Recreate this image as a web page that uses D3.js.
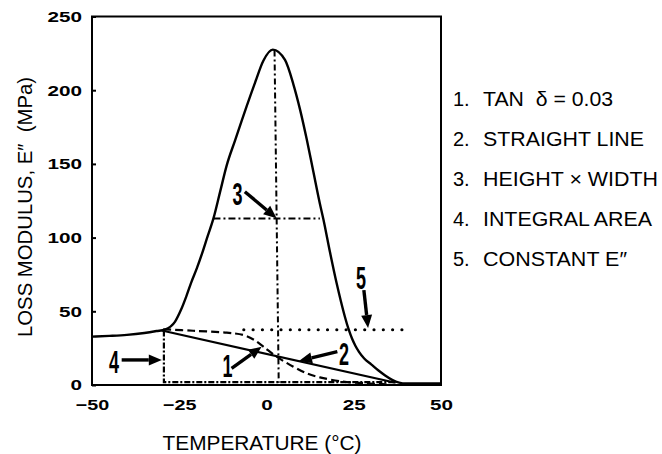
<!DOCTYPE html>
<html>
<head>
<meta charset="utf-8">
<script src="https://cdn.jsdelivr.net/npm/d3@7"></script>
<style>
  html, body { margin: 0; padding: 0; background: #fff; }
  svg { display: block; }
  text { font-family: "Liberation Sans", Arial, Helvetica, sans-serif; fill: #000; }
</style>
</head>
<body>
<svg id="chart" width="662" height="454"></svg>
<script>
// Loss modulus E'' (MPa) across the glass transition, temperature in °C
const mainTemp = [-50, -45, -40, -35, -31.5, -29.1, -26.2, -24.5, -23, -21.5, -20, -18.5, -17, -15.2, -13.3, -11.4, -9, -7, -5.7, -3.3, -0.9, 1.8, 5.3, 7.7, 9.6, 11.5, 13.4, 15.3, 16.3, 18.2, 20.1, 21.3, 22.5, 23.5, 24.5, 25.5, 26.5, 28, 30, 32, 34, 36, 38, 40, 50];
const mainE    = [32.8, 33.3, 34, 35.3, 36.6, 37.6, 43, 51, 60, 70, 79, 89, 100, 113, 131, 149, 166, 180, 189, 205, 220, 227.5, 220.5, 204, 187, 167, 145, 123, 112.5, 90, 69, 57, 46, 38, 31.5, 26.5, 22.5, 18, 14, 10, 6.5, 3.5, 1.6, 1, 1];

// Method 1: baseline where tan δ = 0.03
const tanTemp = [-29.6, -21, -11.4, -6.6, -3.5, -0.9, 2.9, 7.7, 11.5, 15.3, 21.9, 28.7, 34.4];
const tanE    = [37.8, 36.8, 35.5, 33.9, 30.5, 26, 19.2, 12.4, 7.9, 5.2, 2.3, 1.1, 0.5];

// Method 2: straight baseline under the peak
const lineTemp = [-30, 37];
const lineE    = [37, 1.5];

// Method 3: peak height and width at half height
const peakTemp = [2.3, 3.5];
const peakE    = [227, 1.5];
const halfTemp = [-15.2, 15.3];
const halfE    = [113, 113];

// Method 4: integral area bounds
const areaTemp = [-29.4, -29.4, 37];
const areaE    = [37, 2, 2];

// Method 5: constant E''
const constTemp = [-6.5, 40];
const constE    = [37.5, 37.5];

// Numbered call-outs and their arrows
const calloutLabels   = ["1", "2", "3", "4", "5"];
const calloutTemp     = [-11.2, 22.2, -8.3, -43.7, 27.1];
const calloutE        = [12.9, 21, 129.6, 15.9, 72.9];
const arrowFromTemp   = [-10.0, 20.3, -6.2, -41.5, 27.9];
const arrowFromE      = [11.3, 22.6, 131.1, 17, 64.4];
const arrowToTemp     = [-1.4, 9.3, 2.9, -30.0, 29.1];
const arrowToE        = [26, 16.3, 113.1, 17, 38.7];

// Legend entries
const legendNums  = ["1.", "2.", "3.", "4.", "5."];
const legendTexts = ["TAN  \u03B4 = 0.03", "STRAIGHT LINE", "HEIGHT \u00D7 WIDTH", "INTEGRAL AREA", "CONSTANT E\u2033"];

// Axis ticks
const xTicks = [-50, -25, 0, 25, 50];
const yTicks = [0, 50, 100, 150, 200, 250];

const xTitle = "TEMPERATURE (\u00B0C)";
const yTitle = "LOSS MODULUS, E\u2033  (MPa)";

// ---- layout ----
const plot = { left: 92, right: 441, top: 16.5, bottom: 385 };
const legendX = 453, legendTextX = 483, legendY0 = 105.7, legendStep = 40;
const legendTextLength = [130, 161, 175, 169, 144];

const svg = d3.select("#chart");
const x = d3.scaleLinear().domain([-50, 50]).range([plot.left, plot.right]);
const y = d3.scaleLinear().domain([0, 250]).range([plot.bottom, plot.top]);

const zip = (a, b) => a.map((v, i) => [v, b[i]]);
const line = d3.line().x(d => x(d[0])).y(d => y(d[1]));
const fmt = d => (d < 0 ? "\u2212" + Math.abs(d) : String(d));
const tickTextLength = s => [...s].reduce((w, c) => w + (c === "\u2212" ? 10.5 : 11.5), 0);

// Axes
const yAxis = svg.append("g")
  .attr("transform", `translate(${plot.left},0)`)
  .call(d3.axisLeft(y).tickValues(yTicks).tickSize(-4).tickPadding(10).tickFormat(fmt));
yAxis.select(".domain").remove();
yAxis.selectAll(".tick line").attr("stroke", "#000").attr("stroke-width", 2);
yAxis.selectAll(".tick text")
  .attr("font-size", 15).attr("font-weight", "bold")
  .style("font-family", '"Liberation Sans", Arial, sans-serif')
  .attr("textLength", function () { return tickTextLength(this.textContent); })
  .attr("lengthAdjust", "spacingAndGlyphs");

const xAxis = svg.append("g")
  .attr("transform", `translate(0,${plot.bottom})`)
  .call(d3.axisBottom(x).tickValues(xTicks).tickSize(0).tickPadding(14).tickFormat(fmt));
xAxis.select(".domain").remove();
xAxis.selectAll(".tick text")
  .attr("font-size", 15).attr("font-weight", "bold")
  .style("font-family", '"Liberation Sans", Arial, sans-serif')
  .attr("textLength", function () { return tickTextLength(this.textContent); })
  .attr("lengthAdjust", "spacingAndGlyphs");

// Frame
svg.append("rect")
  .attr("x", plot.left).attr("y", plot.top)
  .attr("width", plot.right - plot.left).attr("height", plot.bottom - plot.top)
  .attr("fill", "none").attr("stroke", "#000").attr("stroke-width", 2);

// Axis titles
svg.append("text")
  .attr("x", 262).attr("y", 450)
  .attr("text-anchor", "middle").attr("font-size", 20)
  .attr("textLength", 199).attr("lengthAdjust", "spacingAndGlyphs")
  .text(xTitle);

svg.append("text")
  .attr("transform", "translate(32,207) rotate(-90)")
  .attr("text-anchor", "middle").attr("font-size", 20)
  .style("white-space", "pre")
  .attr("textLength", 260).attr("lengthAdjust", "spacingAndGlyphs")
  .text(yTitle);

// Baseline constructions
const marks = svg.append("g").attr("fill", "none").attr("stroke", "#000");

marks.append("path").attr("d", line(zip(areaTemp, areaE)))
  .attr("stroke-width", 2.2).attr("stroke-dasharray", "6,2,2,2");

marks.append("path").attr("d", line(zip(peakTemp, peakE)))
  .attr("stroke-width", 2).attr("stroke-dasharray", "6,3,2,3");

marks.append("path").attr("d", line(zip(halfTemp, halfE)))
  .attr("stroke-width", 2).attr("stroke-dasharray", "7,3,2,3");

marks.append("path").attr("d", line(zip(constTemp, constE)))
  .attr("stroke-width", 3.2).attr("stroke-linecap", "round").attr("stroke-dasharray", "0,9.3");

marks.append("path").attr("d", line.curve(d3.curveCatmullRom)(zip(tanTemp, tanE)))
  .attr("stroke-width", 2.2).attr("stroke-dasharray", "8,4");

marks.append("path").attr("d", line.curve(d3.curveLinear)(zip(lineTemp, lineE)))
  .attr("stroke-width", 2.2);

// E'' curve
marks.append("path").attr("d", line.curve(d3.curveMonotoneX)(zip(mainTemp, mainE)))
  .attr("stroke-width", 2.4).attr("stroke-linejoin", "round");

// Call-out arrows
const arrows = svg.append("g");
calloutLabels.forEach((lab, i) => {
  const x0 = x(arrowFromTemp[i]), y0 = y(arrowFromE[i]);
  const x1 = x(arrowToTemp[i]),   y1 = y(arrowToE[i]);
  const ang = Math.atan2(y1 - y0, x1 - x0);
  const headLen = 13, headHalf = 5.5;
  const bx = x1 - headLen * Math.cos(ang), by = y1 - headLen * Math.sin(ang);
  arrows.append("line")
    .attr("x1", x0).attr("y1", y0).attr("x2", bx).attr("y2", by)
    .attr("stroke", "#000").attr("stroke-width", 3.4);
  const px = -Math.sin(ang) * headHalf, py = Math.cos(ang) * headHalf;
  arrows.append("polygon")
    .attr("points", [[x1, y1], [bx + px, by + py], [bx - px, by - py]].map(p => p.join(",")).join(" "))
    .attr("fill", "#000");
  arrows.append("text")
    .attr("transform", `translate(${x(calloutTemp[i])},${y(calloutE[i])}) scale(0.58,1)`)
    .attr("text-anchor", "middle").attr("dy", "0.36em")
    .attr("font-size", 31).attr("font-weight", "bold")
    .text(lab);
});

// Legend
const legend = svg.append("g");
legendNums.forEach((n, i) => {
  const yy = legendY0 + i * legendStep;
  legend.append("text").attr("x", legendX).attr("y", yy).attr("font-size", 20).text(n);
  legend.append("text").attr("x", legendTextX).attr("y", yy).attr("font-size", 20)
    .style("white-space", "pre")
    .attr("textLength", legendTextLength[i]).attr("lengthAdjust", "spacingAndGlyphs")
    .text(legendTexts[i]);
});
</script>
</body>
</html>
